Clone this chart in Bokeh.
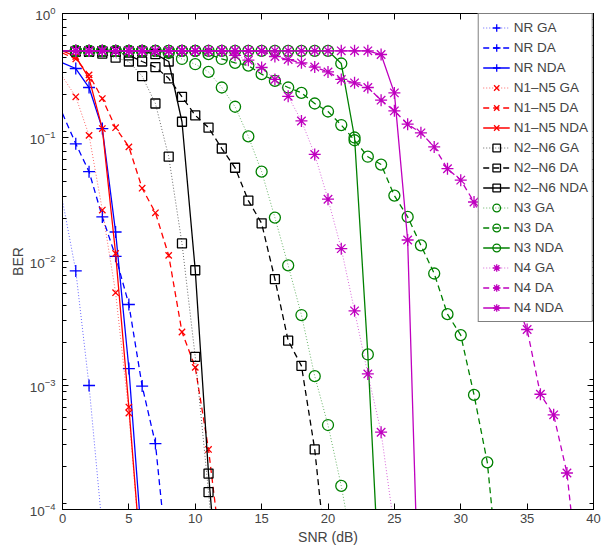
from bokeh.plotting import figure
from bokeh.models import Range1d, LinearAxis, LogAxis, LogTicker, FixedTicker, Legend, LegendItem
from bokeh.embed import file_html
from bokeh.resources import INLINE

# ---------------- data (SNR in dB starts at 0, step 1) ----------------
nr_ga = [0.031, 0.0084, 1.0e-3, 7e-5]
nr_da = [0.156, 0.089, 0.053, 0.0229, 0.011, 0.0045, 9.9e-4, 3.4e-4, 3e-5]
nr_nda = [0.40, 0.36, 0.253, 0.118, 0.0173, 1.37e-3, 5e-5]

n15_ga = [0.31, 0.213, 0.104, 0.026, 0.0056, 6.0e-4, 3e-5]
n15_da = [0.48, 0.43, 0.32, 0.206, 0.12, 0.084, 0.039, 0.0247, 0.0112, 0.0027, 0.0014, 3.05e-4, 4e-5]
n15_nda = [0.5, 0.45, 0.30, 0.118, 0.0116, 6.7e-4, 3e-5]

n26_ga = [0.495, 0.495, 0.49, 0.475, 0.44, 0.41, 0.312, 0.188, 0.07, 0.014, 1.7e-3, 1.38e-4, 1e-5]
n26_da = [0.495, 0.495, 0.495, 0.495, 0.49, 0.46, 0.41, 0.37, 0.30, 0.213, 0.151, 0.12, 0.0815,
          0.057, 0.031, 0.0203, 0.0072, 0.0023, 0.00144, 3.05e-4, 3e-5]
n26_nda = [0.495, 0.495, 0.495, 0.495, 0.495, 0.495, 0.495, 0.47, 0.41, 0.134, 0.0085, 1.95e-4, 1e-5]

n3_ga = [0.5, 0.5, 0.5, 0.5, 0.5, 0.5, 0.5, 0.5, 0.48, 0.43, 0.39, 0.338, 0.253, 0.177, 0.102,
         0.053, 0.0226, 0.0093, 0.0037, 0.00119, 4.8e-4, 1.55e-4, 4e-5]
n3_da = [0.5, 0.5, 0.5, 0.5, 0.5, 0.5, 0.5, 0.5, 0.5, 0.5, 0.5, 0.47, 0.43, 0.40, 0.38, 0.324,
         0.286, 0.253, 0.229, 0.188, 0.162, 0.126, 0.095, 0.07, 0.0605, 0.034, 0.0229, 0.0135,
         0.008, 0.00376, 0.00255, 8.4e-4, 2.4e-4, 2e-5]
n3_nda = [0.5] * 21 + [0.395, 0.1, 0.00178, 1.3e-5]

n4_ga = [0.5] * 13 + [0.46, 0.42, 0.367, 0.294, 0.215, 0.136, 0.073, 0.0318, 0.0127, 0.004,
                      0.00124, 4.2e-4, 7e-5]
n4_da = [0.5] * 16 + [0.45, 0.425, 0.40, 0.37, 0.338, 0.294, 0.276, 0.253, 0.2, 0.164, 0.128,
                      0.109, 0.084, 0.056, 0.0453, 0.0302, 0.018, 0.0095, 0.005, 0.00283,
                      8.5e-4, 5.8e-4, 1.97e-4, 2e-5]
n4_nda = [0.5] * 24 + [0.467, 0.229, 0.0149, 4e-6]

x_ticks = [0, 5, 10, 15, 20, 25, 30, 35, 40]

labels = ["NR GA", "NR DA", "NR NDA",
          "N1\u2013N5 GA", "N1\u2013N5 DA", "N1\u2013N5 NDA",
          "N2\u2013N6 GA", "N2\u2013N6 DA", "N2\u2013N6 NDA",
          "N3 GA", "N3 DA", "N3 NDA",
          "N4 GA", "N4 DA", "N4 NDA"]
values = [nr_ga, nr_da, nr_nda, n15_ga, n15_da, n15_nda, n26_ga, n26_da, n26_nda,
          n3_ga, n3_da, n3_nda, n4_ga, n4_da, n4_nda]

# ---------------- styles ----------------
colors = ["#0000ff", "#ff0000", "#000000", "#008000", "#bf00bf"]
markers = ["cross", "x", "square", "circle", "asterisk"]
msizes = [12, 9, 9, 11, 12]
dashes = ["1 2", "6 4", "solid"]
lwidths = [1.0, 1.3, 1.3]
lalphas = [0.6, 1.0, 1.0]
FONT = "Liberation Sans"

p = figure(frame_width=531, frame_height=496,
           x_range=Range1d(0, 40), y_range=Range1d(1e-4, 1),
           y_axis_type="log", output_backend="svg", toolbar_location=None,
           min_border_left=62, min_border_top=13, min_border_right=10, min_border_bottom=38,
           background_fill_color="white", border_fill_color="white")
p.outline_line_color = "black"
p.outline_line_width = 1
p.xgrid.visible = False
p.ygrid.visible = False

items = []
for i, (lab, ys) in enumerate(zip(labels, values)):
    g, k = divmod(i, 3)
    xs = list(range(len(ys)))
    lr = p.line(xs, ys, line_color=colors[g], line_width=lwidths[k], line_alpha=lalphas[k],
                line_dash=dashes[k])
    sr = p.scatter(xs[1:], ys[1:], marker=markers[g], size=msizes[g], line_color=colors[g],
                   fill_color=None, line_width=1.3)
    items.append(LegendItem(label=lab, renderers=[lr, sr]))

legend = Legend(items=items, location="top_right", margin=0, padding=4, spacing=1,
                glyph_width=27, glyph_height=19, label_height=19, label_standoff=4,
                label_text_font=FONT, label_text_font_size="13.5px",
                border_line_color="black", border_line_width=1,
                background_fill_color="white", background_fill_alpha=1)
p.add_layout(legend)

# bottom axis
xa = p.xaxis[0]
xa.ticker = FixedTicker(ticks=x_ticks)
xa.major_tick_in = 6
xa.major_tick_out = 0
xa.minor_tick_line_color = None
xa.major_label_standoff = 4
xa.major_label_text_font = FONT
xa.major_label_text_font_size = "13px"
xa.axis_label = "SNR (dB)"
xa.axis_label_text_font = FONT
xa.axis_label_text_font_size = "14px"
xa.axis_label_text_font_style = "normal"
xa.axis_label_standoff = 3
xa.axis_line_color = "black"

# left axis (log, superscript exponents)
ya = p.yaxis[0]
ya.ticker = LogTicker(num_minor_ticks=9)
ya.major_tick_in = 6
ya.major_tick_out = 0
ya.minor_tick_in = 4
ya.minor_tick_out = 0
ya.major_label_standoff = 7
ya.major_label_text_font = FONT
ya.major_label_text_font_size = "13.5px"
ya.axis_label = "BER"
ya.axis_label_text_font = FONT
ya.axis_label_text_font_size = "14px"
ya.axis_label_text_font_style = "normal"
ya.axis_label_standoff = 1
ya.axis_line_color = "black"

# top / right box axes with inside ticks
top = LinearAxis(ticker=FixedTicker(ticks=x_ticks), major_tick_in=6, major_tick_out=0,
                 minor_tick_line_color=None, major_label_text_font_size="1px",
                 major_label_text_alpha=0, major_label_standoff=0)
p.add_layout(top, "above")
right = LogAxis(ticker=LogTicker(num_minor_ticks=9), major_tick_in=6, major_tick_out=0,
                minor_tick_in=4, minor_tick_out=0, major_label_text_font_size="1px",
                major_label_text_alpha=0, major_label_standoff=0)
p.add_layout(right, "right")

open("out.html", "w").write(file_html(p, INLINE))
